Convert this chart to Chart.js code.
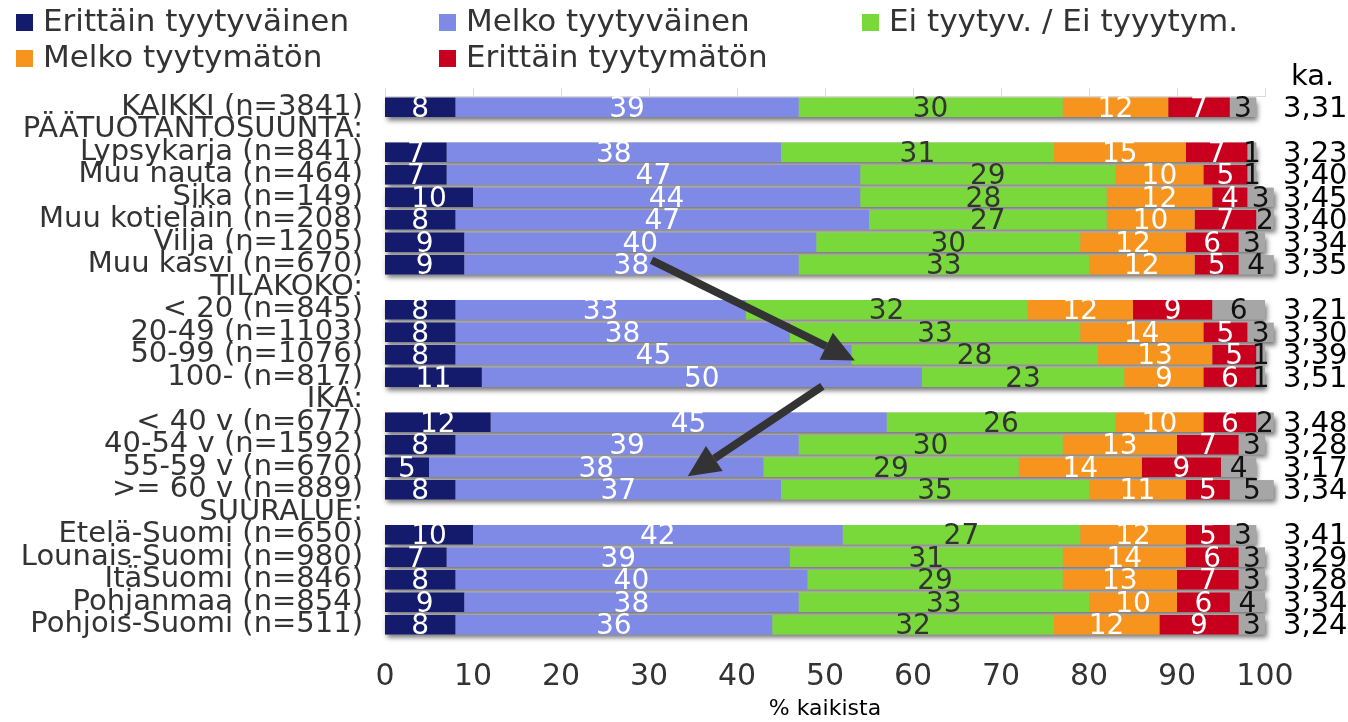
<!DOCTYPE html>
<html>
<head>
<meta charset="utf-8">
<script src="https://cdn.jsdelivr.net/npm/chart.js@4"></script>
<style>
  html, body { margin: 0; padding: 0; background: #fff; }
  #wrap { width: 1348px; height: 722px; }
</style>
</head>
<body>
<div id="wrap"><canvas id="myChart"></canvas></div>
<script>
const categories = ['KAIKKI (n=3841)', 'PÄÄTUOTANTOSUUNTA:', 'Lypsykarja (n=841)', 'Muu nauta (n=464)',
  'Sika (n=149)', 'Muu kotieläin (n=208)', 'Vilja (n=1205)', 'Muu kasvi (n=670)', 'TILAKOKO:',
  '< 20 (n=845)', '20-49 (n=1103)', '50-99 (n=1076)', '100- (n=817)', 'IKÄ:',
  '< 40 v (n=677)', '40-54 v (n=1592)', '55-59 v (n=670)', '>= 60 v (n=889)', 'SUURALUE:',
  'Etelä-Suomi (n=650)', 'Lounais-Suomi (n=980)', 'ItäSuomi (n=846)', 'Pohjanmaa (n=854)', 'Pohjois-Suomi (n=511)'];

const erittainTyyt = [8, null, 7, 7, 10, 8, 9, 9, null, 8, 8, 8, 11, null, 12, 8, 5, 8, null, 10, 7, 8, 9, 8];
const melkoTyyt    = [39, null, 38, 47, 44, 47, 40, 38, null, 33, 38, 45, 50, null, 45, 39, 38, 37, null, 42, 39, 40, 38, 36];
const eiTyyt       = [30, null, 31, 29, 28, 27, 30, 33, null, 32, 33, 28, 23, null, 26, 30, 29, 35, null, 27, 31, 29, 33, 32];
const melkoTyytm   = [12, null, 15, 10, 12, 10, 12, 12, null, 12, 14, 13, 9, null, 10, 13, 14, 11, null, 12, 14, 13, 10, 12];
const erittainTyytm= [7, null, 7, 5, 4, 7, 6, 5, null, 9, 5, 5, 6, null, 6, 7, 9, 5, null, 5, 6, 7, 6, 9];
const eiVastausta  = [3, null, 1, 1, 3, 2, 3, 4, null, 6, 3, 1, 1, null, 2, 3, 4, 5, null, 3, 3, 3, 4, 3];
const keskiarvo    = ['3,31', '', '3,23', '3,40', '3,45', '3,40', '3,34', '3,35', '', '3,21', '3,30', '3,39', '3,51', '',
  '3,48', '3,28', '3,17', '3,34', '', '3,41', '3,29', '3,28', '3,34', '3,24'];
const xTicks = [0, 10, 20, 30, 40, 50, 60, 70, 80, 90, 100];

// arrows: [x value, row index] -> [x value, row index]
const arrows = [
  [[30.3, 6.8], [53.4, 11.25]],
  [[49.7, 12.4], [34.4, 16.4]]
];

const FONT = '"DejaVu Sans", Verdana, sans-serif';
const TXT = '#333333';

const ctx = document.getElementById('myChart').getContext('2d');

const barShadow = {
  id: 'barShadow',
  beforeDatasetsDraw(chart) {
    const c = chart.ctx;
    const first = chart.getDatasetMeta(0).data;
    const last = chart.getDatasetMeta(chart.data.datasets.length - 1).data;
    c.save();
    first.forEach((bar, j) => {
      if (erittainTyyt[j] == null) return;
      const h = bar.height;
      c.shadowColor = 'rgba(0,0,0,0.55)';
      c.shadowBlur = 5;
      c.shadowOffsetX = 2;
      c.shadowOffsetY = 4;
      c.fillStyle = '#a6a6a6';
      c.fillRect(bar.base, bar.y - h / 2, last[j].x - bar.base, h);
    });
    c.restore();
  }
};

const segLabels = {
  id: 'segLabels',
  afterDatasetsDraw(chart) {
    const c = chart.ctx;
    c.save();
    c.font = '28px ' + FONT;
    c.textAlign = 'center';
    c.textBaseline = 'middle';
    chart.data.datasets.forEach((ds, i) => {
      chart.getDatasetMeta(i).data.forEach((bar, j) => {
        const v = ds.data[j];
        if (v == null) return;
        const p = bar.getCenterPoint();
        c.fillStyle = ds.labelColor;
        c.fillText(String(v), p.x, p.y + 2);
      });
    });
    // ka. column
    const yScale = chart.scales.y;
    const xr = chart.chartArea.right + 18;
    c.font = '29px ' + FONT;
    c.textAlign = 'left';
    c.fillStyle = '#000';
    keskiarvo.forEach((k, j) => {
      if (!k) return;
      c.fillText(k, xr, yScale.getPixelForValue(j) + 2);
    });
    c.fillText('ka.', xr + 8, chart.chartArea.top - 19);
    // arrows
    const xs = chart.scales.x;
    c.strokeStyle = '#333333';
    c.fillStyle = '#333333';
    c.lineWidth = 8;
    arrows.forEach(a => {
      const x1 = xs.getPixelForValue(a[0][0]), y1 = yScale.getPixelForValue(a[0][1]);
      const x2 = xs.getPixelForValue(a[1][0]), y2 = yScale.getPixelForValue(a[1][1]);
      const ang = Math.atan2(y2 - y1, x2 - x1);
      const hl = 32, hw = 15;
      const bx = x2 - hl * Math.cos(ang), by = y2 - hl * Math.sin(ang);
      c.beginPath();
      c.moveTo(x1, y1);
      c.lineTo(bx, by);
      c.stroke();
      c.beginPath();
      c.moveTo(x2, y2);
      c.lineTo(bx + hw * Math.sin(ang), by - hw * Math.cos(ang));
      c.lineTo(bx - hw * Math.sin(ang), by + hw * Math.cos(ang));
      c.closePath();
      c.fill();
    });
    c.restore();
  }
};

const topLegend = {
  id: 'topLegend',
  afterDraw(chart) {
    const c = chart.ctx;
    c.save();
    c.font = '31px ' + FONT;
    c.textBaseline = 'middle';
    c.textAlign = 'left';
    chart.data.datasets.forEach((ds, i) => {
      if (!ds.inLegend) return;
      const col = i % 3, row = Math.floor(i / 3);
      const x = 16 + col * 423, y = 22 + row * 36;
      c.fillStyle = ds.backgroundColor;
      c.fillRect(x, y - 8, 17, 17);
      c.fillStyle = TXT;
      c.fillText(ds.label, x + 27, y + 1);
    });
    c.restore();
  }
};

new Chart(ctx, {
  type: 'bar',
  data: {
    labels: categories,
    datasets: [
      { label: 'Erittäin tyytyväinen', data: erittainTyyt, backgroundColor: '#141a6c', labelColor: '#fff', inLegend: true },
      { label: 'Melko tyytyväinen', data: melkoTyyt, backgroundColor: '#7f89e6', labelColor: '#fff', inLegend: true },
      { label: 'Ei tyytyv. / Ei tyyytym.', data: eiTyyt, backgroundColor: '#7ad93a', labelColor: TXT, inLegend: true },
      { label: 'Melko tyytymätön', data: melkoTyytm, backgroundColor: '#f7941d', labelColor: '#fff', inLegend: true },
      { label: 'Erittäin tyytymätön', data: erittainTyytm, backgroundColor: '#c8001e', labelColor: '#fff', inLegend: true },
      { label: 'Ei vastausta', data: eiVastausta, backgroundColor: '#a6a6a6', labelColor: '#111', inLegend: false }
    ]
  },
  options: {
    indexAxis: 'y',
    responsive: true,
    maintainAspectRatio: false,
    animation: false,
    datasets: { bar: { barPercentage: 0.86, categoryPercentage: 1 } },
    layout: { padding: { top: 88, right: 83, left: 0, bottom: 0 } },
    plugins: { legend: { display: false }, tooltip: { enabled: false } },
    scales: {
      x: {
        stacked: true, min: 0, max: 100,
        afterBuildTicks: s => { s.ticks = xTicks.map(v => ({ value: v })); },
        afterFit: s => { s.height = 86; },
        grid: { display: false },
        border: { display: false },
        ticks: { color: TXT, font: { size: 30, family: FONT }, padding: 15, maxRotation: 0 },
        title: { display: true, text: '% kaikista', color: '#000', font: { size: 22, family: FONT }, padding: { top: 0, bottom: 0 } }
      },
      x2: {
        position: 'top', min: 0, max: 100,
        afterBuildTicks: s => { s.ticks = xTicks.map(v => ({ value: v })); },
        grid: { drawOnChartArea: false, tickLength: 8, color: '#d9d9d9' },
        border: { color: '#d9d9d9' },
        ticks: { display: false }
      },
      y: {
        stacked: true,
        afterFit: s => { s.width = 385; },
        grid: { display: false },
        border: { display: false },
        ticks: { autoSkip: false, color: TXT, font: { size: 29, family: FONT }, padding: 14 }
      }
    }
  },
  plugins: [barShadow, segLabels, topLegend]
});
</script>
</body>
</html>
